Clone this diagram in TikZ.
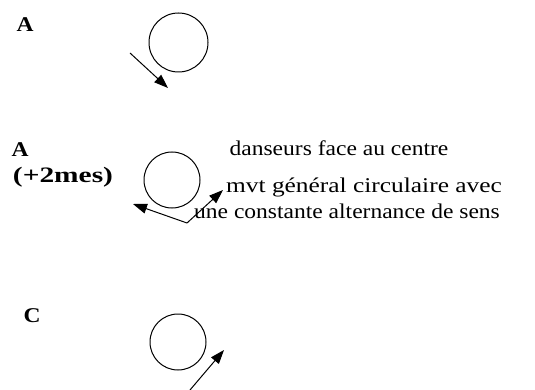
\documentclass[tikz,border=0pt]{standalone}
\usepackage{fontspec}
\setmainfont[FakeStretch=1.12]{Liberation Serif}
\usetikzlibrary{arrows.meta}
\tikzset{
  ring/.style={draw, line width=1pt, circle},
  mov/.style={line width=1pt, -{Triangle[length=14pt,width=10pt]}},
  lbl/.style={font=\fontsize{21}{23}\selectfont\bfseries, inner sep=0pt},
  txt/.style={font=\fontsize{21}{23}\selectfont, inner sep=0pt},
}
\begin{document}
\begin{tikzpicture}[x=1pt,y=-1pt]
\useasboundingbox (0,0) rectangle (535,390);
% first
\node[lbl] (a1) at (25,25) {A};
\draw[ring] (178.5,42.5) circle (29.5);
\coordinate (s1) at (130,53);
\coordinate (e1) at (168,88);
\draw[mov] (s1) -- (e1);
% second
\node[lbl] (a2) at (20,150) {A};
\node[lbl] (p2) at (63,177) {\scalebox{1.25}[1.05]{(+2mes)}};
\draw[ring] (172,180) circle (28);
\node[txt] (t1) at (339,148) {danseurs face au centre};
\node[txt] (t2) at (364,187) {\scalebox{1.08}[1]{mvt général circulaire avec}};
\node[txt] (t3) at (347,211) {une constante alternance de sens};
\coordinate (c2) at (187,223);
\coordinate (l2) at (133,204);
\coordinate (r2) at (223,190);
\draw[mov] (c2) -- (l2);
\draw[mov] (c2) -- (r2);
% third
\node[lbl] (c3) at (32,316) {C};
\draw[ring] (178,342) circle (28);
\coordinate (s3) at (190,390);
\coordinate (e3) at (224,350);
\draw[mov] (s3) -- (e3);
\end{tikzpicture}
\end{document}
